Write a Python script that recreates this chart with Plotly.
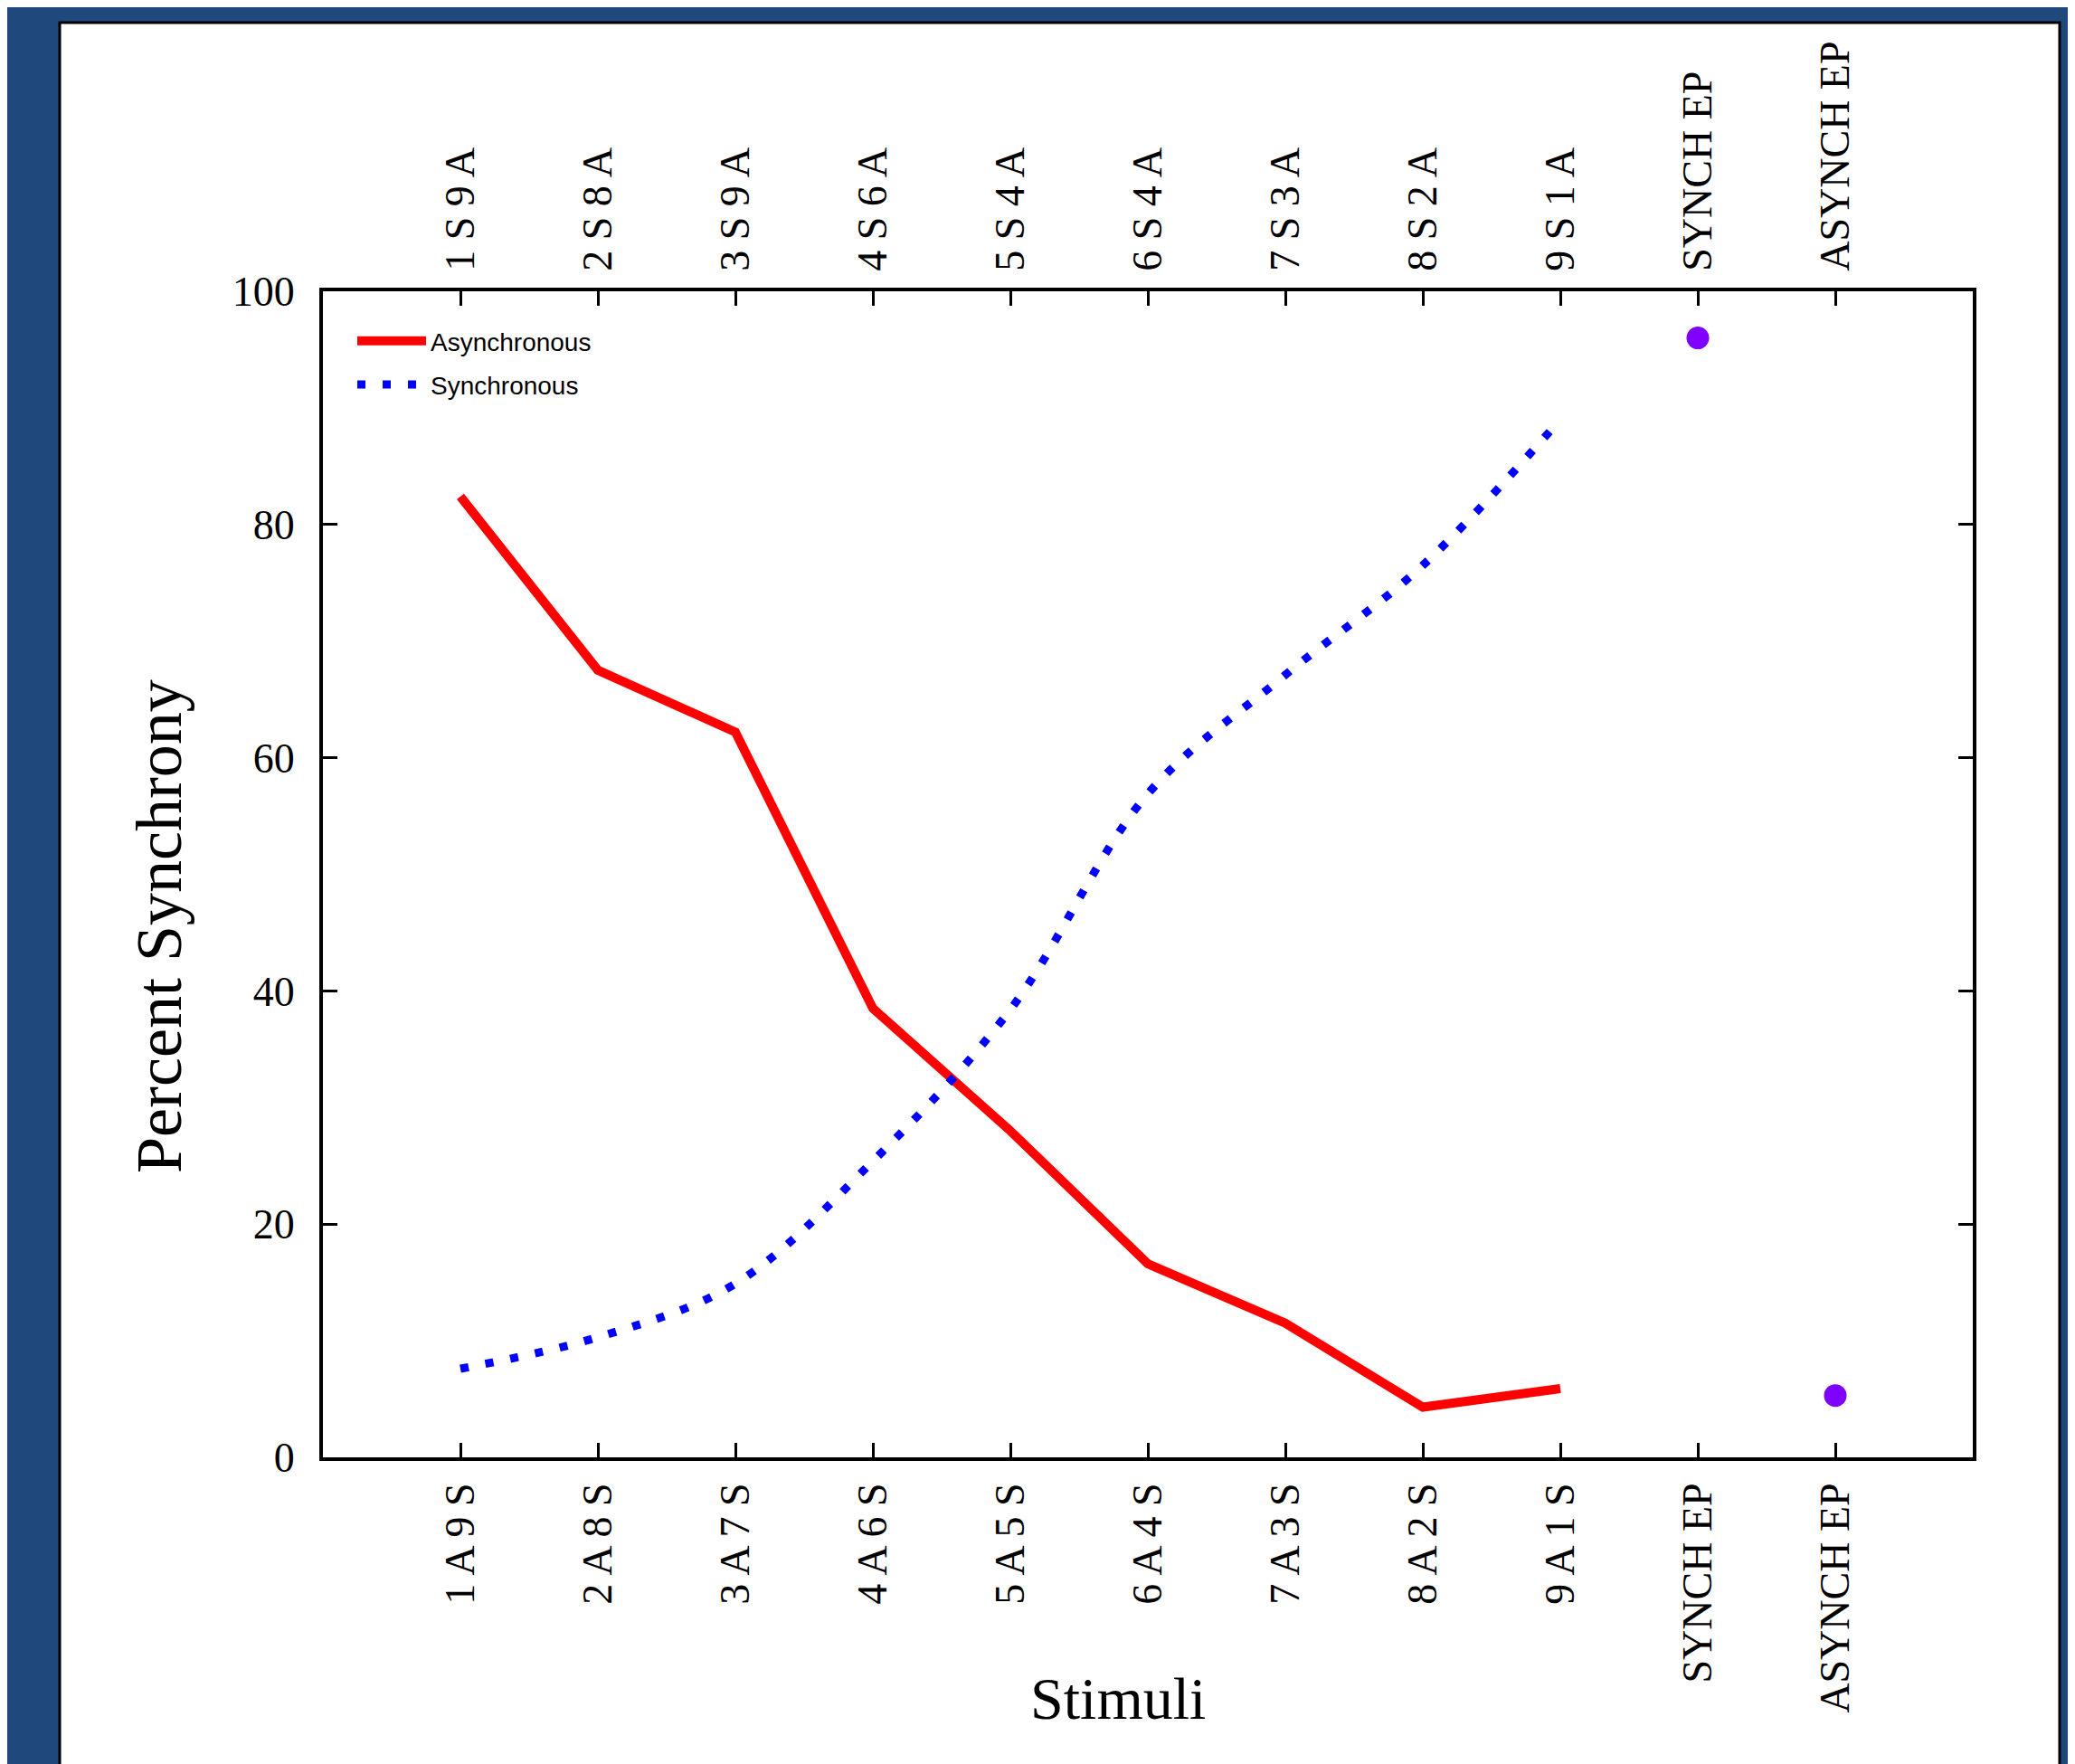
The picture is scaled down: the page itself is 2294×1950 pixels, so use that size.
import plotly.graph_objects as go

# ---------------- data ----------------
bottom_labels = ["1 A 9 S", "2 A 8 S", "3 A 7 S", "4 A 6 S", "5 A 5 S", "6 A 4 S",
                 "7 A 3 S", "8 A 2 S", "9 A 1 S", "SYNCH EP", "ASYNCH EP"]
top_labels = ["1 S 9 A", "2 S 8 A", "3 S 9 A", "4 S 6 A", "5 S 4 A", "6 S 4 A",
              "7 S 3 A", "8 S 2 A", "9 S 1 A", "SYNCH EP", "ASYNCH EP"]
stimuli = bottom_labels[:9]
asynchronous = [82.4, 67.5, 62.2, 38.5, 28.0, 16.6, 11.5, 4.3, 5.9]
synchronous = [7.6, 10.3, 14.9, 25.4, 38.4, 56.9, 67.1, 76.5, 89.0]
ep_labels = ["SYNCH EP", "ASYNCH EP"]
ep_values = [96.0, 5.3]
y_ticks = [0, 20, 40, 60, 80, 100]

SERIF = "Liberation Serif"
SANS = "Liberation Sans"

fig = go.Figure()

fig.add_trace(go.Scatter(
    x=stimuli, y=asynchronous, name="Asynchronous", mode="lines",
    line=dict(color="#FF0000", width=10), legendgroup="a",
))
fig.add_trace(go.Scatter(
    x=stimuli, y=synchronous, name="Synchronous", mode="lines",
    line=dict(color="#0000FF", width=9, dash="9px,19px", shape="spline", smoothing=1.0),
    legendgroup="b",
))
fig.add_trace(go.Scatter(
    x=ep_labels, y=ep_values, mode="markers", showlegend=False,
    marker=dict(color="#8000FF", size=25, symbol="circle"),
))
# carrier for the top axis labels
fig.add_trace(go.Scatter(
    x=list(range(len(top_labels))), y=[None] * len(top_labels), xaxis="x2",
    mode="markers", showlegend=False, hoverinfo="skip",
))

# screen geometry (page has an 8px body margin)
SW, SH, OFF = 2294, 1950, 8
L, R, T, B = 357, 2181, 322, 1611
pw, ph = R - L, B - T

def px(x):
    return (x - L) / pw

def py(y):
    return (B - y) / ph

axis_common = dict(
    showline=True, linewidth=4, linecolor="black",
    ticks="inside", ticklen=16, tickwidth=3, tickcolor="black",
    showgrid=False, zeroline=False,
)

fig.update_layout(
    width=SW - OFF, height=SH - OFF, autosize=False,
    margin=dict(l=L - OFF, r=SW - R, t=T - OFF, b=SH - B, pad=0),
    paper_bgcolor="#1F497D",
    plot_bgcolor="white",
    showlegend=True,
    legend=dict(
        x=px(390), y=py(352), xanchor="left", yanchor="top",
        bgcolor="rgba(0,0,0,0)", borderwidth=0,
        font=dict(family=SANS, size=28, color="black"),
        traceorder="grouped", tracegroupgap=9, itemwidth=76,
    ),
    xaxis=dict(
        **axis_common,
        mirror=True,
        type="category", categoryorder="array", categoryarray=bottom_labels,
        range=[-1, len(bottom_labels)],
        tickangle=-90, ticklabelstandoff=6,
        tickfont=dict(family=SERIF, size=46, color="black"),
    ),
    xaxis2=dict(
        **axis_common,
        overlaying="x", side="top",
        range=[-1, len(top_labels)],
        tickvals=list(range(len(top_labels))), ticktext=top_labels,
        tickangle=-90, ticklabelstandoff=9,
        tickfont=dict(family=SERIF, size=46, color="black"),
    ),
    yaxis=dict(
        **axis_common,
        mirror="ticks",
        range=[0, 100], tickvals=y_ticks,
        ticklabelstandoff=18,
        tickfont=dict(family=SERIF, size=46, color="black"),
    ),
    shapes=[dict(
        type="rect", xref="paper", yref="paper", layer="below",
        x0=px(66), x1=px(2277), y0=py(1975), y1=py(25),
        fillcolor="white", line=dict(color="black", width=3),
    )],
    annotations=[
        dict(text="Stimuli", xref="paper", yref="paper", x=px(1236), y=py(1877),
             xanchor="center", yanchor="middle", showarrow=False,
             font=dict(family=SERIF, size=66, color="black")),
        dict(text="Percent Synchrony", xref="paper", yref="paper", x=px(176), y=py(1024),
             xanchor="center", yanchor="middle", showarrow=False, textangle=-90,
             font=dict(family=SERIF, size=72, color="black")),
    ],
)

fig.write_html("out.html")
